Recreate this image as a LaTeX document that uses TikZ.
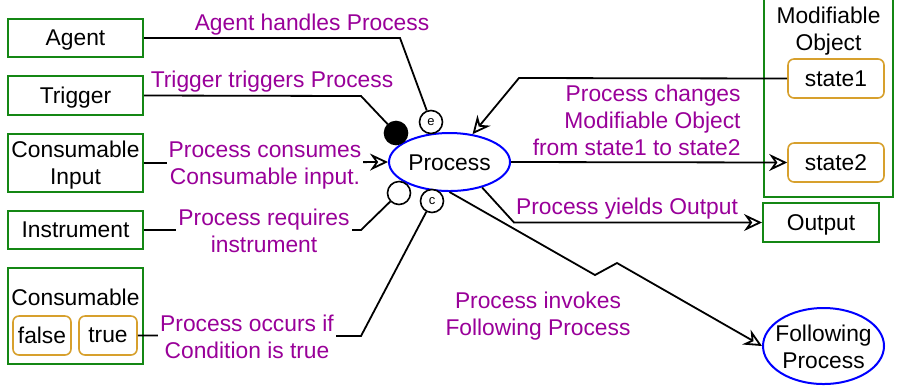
\documentclass[tikz,border=0pt]{standalone}
\usepackage{fontspec}
\setmainfont{Liberation Sans}
\usetikzlibrary{shapes.geometric,arrows.meta}
\definecolor{oGreen}{RGB}{20,135,20}
\definecolor{oOrange}{RGB}{215,160,45}
\definecolor{oPurple}{RGB}{153,0,153}
\definecolor{oBlue}{RGB}{0,0,255}
\newcommand\dfont{\fontsize{11.4}{13.5}\selectfont}
\tikzset{
  objbox/.style={draw=oGreen,line width=1pt,fill=white,rectangle,inner sep=1pt,align=center},
  statebox/.style={draw=oOrange,line width=0.8pt,fill=white,rectangle,rounded corners=3pt,inner sep=1pt,minimum width=29pt,minimum height=19.5pt},
  procell/.style={draw=oBlue,line width=1pt,fill=white,ellipse,inner sep=0pt},
  lbl/.style={text=oPurple,align=center,inner sep=1pt},
  lblw/.style={lbl,fill=white},
  smallcirc/.style={draw=black,line width=0.8pt,fill=white,circle,inner sep=0pt,minimum size=11.5pt,font=\fontsize{6.5}{7}\selectfont},
  conn/.style={draw=black,line width=0.9pt},
  oarrow/.style={-{Stealth[open,length=9pt,width=8.5pt,inset=3pt]}},
}
\begin{document}
\begin{tikzpicture}[x=0.5pt,y=-0.5pt,font=\dfont,every node/.append style={text depth=0pt}]
\useasboundingbox (0,0) rectangle (913,388);
% objects
\node[objbox,minimum width=67.5pt,minimum height=19pt] (agent) at (75.5,38) {Agent};
\node[objbox,minimum width=67.5pt,minimum height=19.5pt] (trigger) at (75.5,95.5) {Trigger};
\node[objbox,minimum width=67.5pt,minimum height=29pt] (cinput) at (75.5,163) {Consumable\\Input};
\node[objbox,minimum width=67.5pt,minimum height=19pt] (instrument) at (75.5,230) {Instrument};
\node[objbox,minimum width=67.5pt,minimum height=48pt] (consumable) at (75.5,316) {};
\node[inner sep=0pt] (consumabletxt) at (75.5,297) {Consumable};
\node[statebox] (false) at (42,335.5) {false};
\node[statebox] (true) at (108,335.5) {true};
\node[objbox,minimum width=64.5pt,minimum height=101pt] (modobj) at (828.5,96) {};
\node[inner sep=0pt,align=center] (modobjtxt) at (828.5,29) {Modifiable\\Object};
\node[statebox,minimum width=48pt] (state1) at (836,78.5) {state1};
\node[statebox,minimum width=48pt] (state2) at (836,162.5) {state2};
\node[objbox,minimum width=58pt,minimum height=19.5pt] (output) at (821,222.5) {Output};
% processes
\node[procell,minimum width=60.5pt,minimum height=29pt] (process) at (449.5,162) {};
\node[inner sep=0pt] (processtxt) at (449.5,163) {Process};
\node[procell,minimum width=60.5pt,minimum height=38pt] (following) at (823.5,346) {};
\node[inner sep=0pt,align=center] (followingtxt) at (823.5,347) {Following\\Process};
% small circles
\node[smallcirc] (ecirc) at (431,122) {e};
\node[smallcirc,fill=black] (bcirc) at (396,133) {};
\node[smallcirc] (icirc) at (399,193) {};
\node[smallcirc] (ccirc) at (432,201) {c};
% connectors
\draw[conn] (agent.east) -- (400,38) -- (ecirc);
\draw[conn] (trigger.east) -- (361,96) -- (bcirc);
\draw[conn,oarrow] (cinput.east) -- (process.west);
\draw[conn] (instrument.east) -- (361,230) -- (icirc);
\draw[conn] (true.east) -- (361,336) -- (ccirc);
\draw[conn,oarrow] (state1.west) -- (519,78) -- (process);
\draw[conn,oarrow] (process.east) -- (state2.west);
\draw[conn,oarrow] (process.-38) -- (514,222.5) -- (output.west);
\draw[conn,oarrow] (process.south) -- (595,275) -- (617,263) -- (following.west);
% labels
\node[lbl] (l1) at (312,22) {Agent handles Process};
\node[lbl] (l2) at (272,79) {Trigger triggers Process};
\node[lblw] (l3) at (265,163.5) {Process consumes\\Consumable input.};
\node[lblw] (l4) at (264,230.5) {Process requires\\instrument};
\node[lblw] (l5) at (247,336.5) {Process occurs if\\Condition is true};
\node[lbl,align=right,anchor=east] (l6) at (743,120) {Process changes\\Modifiable Object\\from state1 to state2};
\node[lbl] (l7) at (627,206) {Process yields Output};
\node[lbl] (l8) at (538,314) {Process invokes\\Following Process};
\end{tikzpicture}
\end{document}
